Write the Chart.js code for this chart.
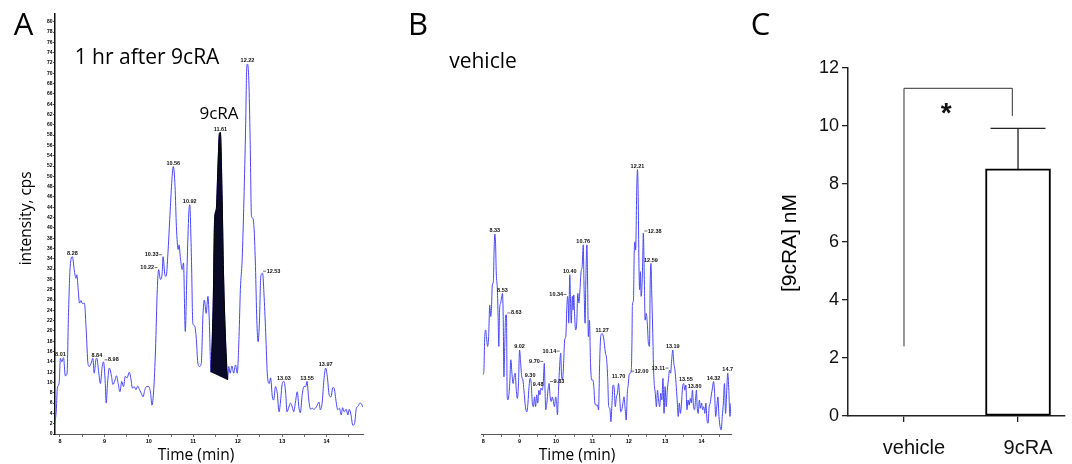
<!DOCTYPE html>
<html lang="en">
<head>
<meta charset="UTF-8">
<title>9cRA chromatograms</title>
<script src="https://cdn.jsdelivr.net/npm/chart.js"></script>
<style>
  body { margin: 0; background: #fff; }
  canvas { position: absolute; top: 0; }
</style>
</head>
<body>
<canvas id="chromA" style="left:0" width="380" height="464"></canvas>
<canvas id="chromB" style="left:380px" width="370" height="464"></canvas>
<canvas id="barC" style="left:740px" width="332" height="464"></canvas>

<script>
// ---- panel A : 1 hr after 9cRA ----
const timeA = [7.87,7.92,7.94,7.98,8.01,8.04,8.08,8.12,8.16,8.19,8.23,8.28,8.32,8.36,8.38,8.41,8.44,8.47,8.51,8.55,
  8.59,8.63,8.66,8.70,8.74,8.77,8.81,8.83,8.87,8.91,8.95,8.98,9.02,9.04,9.07,9.11,9.16,9.19,9.24,9.27,
  9.31,9.35,9.39,9.43,9.47,9.51,9.56,9.60,9.63,9.67,9.71,9.75,9.79,9.83,9.87,9.91,9.95,10.00,10.04,10.07,
  10.11,10.15,10.19,10.22,10.26,10.30,10.32,10.36,10.39,10.43,10.47,10.51,10.55,10.59,10.62,10.66,10.68,10.71,10.75,10.78,
  10.82,10.86,10.90,10.92,10.96,10.99,11.03,11.07,11.10,11.14,11.18,11.22,11.25,11.29,11.33,11.36,11.40,11.45,11.48,11.52,
  11.55,11.59,11.61,11.65,11.68,11.72,11.77,11.80,11.83,11.87,11.91,11.95,11.99,12.03,12.06,12.10,12.14,12.18,12.20,12.22,
  12.25,12.28,12.31,12.34,12.37,12.40,12.43,12.46,12.49,12.52,12.56,12.59,12.63,12.67,12.71,12.74,12.78,12.81,12.85,12.89,
  12.93,12.96,13.00,13.04,13.08,13.11,13.15,13.19,13.23,13.26,13.30,13.34,13.38,13.41,13.45,13.49,13.53,13.56,13.60,13.64,
  13.68,13.71,13.75,13.79,13.83,13.86,13.90,13.94,13.98,14.02,14.06,14.10,14.14,14.17,14.21,14.25,14.29,14.33,14.36,14.40,
  14.44,14.48,14.51,14.55,14.59,14.63,14.67,14.71,14.75,14.79,14.82];
const intensityA = [1.2,5.0,8.9,9.8,14.7,14.0,14.8,11.3,11.8,22.8,32.5,34.4,31.9,30.2,30.9,28.0,25.4,25.9,25.3,25.4,
  20.2,13.7,13.1,13.7,14.7,11.8,14.5,14.7,12.1,9.8,13.1,14.0,9.8,6.0,9.8,12.8,11.2,9.6,10.5,11.3,
  9.8,8.2,10.2,9.2,11.2,10.9,12.0,10.5,8.9,9.2,8.6,9.3,8.6,7.9,7.2,8.6,9.2,9.2,7.9,5.6,
  8.6,16.3,28.0,31.9,30.0,31.2,34.4,30.9,30.6,35.1,41.6,48.0,51.9,48.0,40.3,35.8,36.7,34.2,31.9,33.2,
  19.9,32.5,42.9,44.5,33.5,21.5,21.0,18.3,14.0,13.1,13.7,23.4,26.0,23.4,26.7,22.1,12.0,26.0,41.6,43.8,
  50.6,58.4,58.5,45.4,31.4,19.7,10.5,13.1,11.8,13.2,11.8,13.4,11.8,18.9,28.0,33.8,45.4,60.3,70.4,71.8,
  68.7,57.1,42.2,41.9,39.6,32.5,22.1,17.9,22.1,30.6,31.2,27.4,19.7,11.2,9.8,10.9,7.2,6.6,9.2,7.9,
  4.3,6.0,9.6,10.2,7.9,4.3,5.2,6.0,5.2,4.3,6.2,8.2,5.0,4.1,7.5,9.2,9.2,10.2,6.6,4.8,
  5.0,4.8,5.0,5.6,6.2,4.7,6.0,10.5,12.8,10.9,7.5,7.2,9.0,8.9,6.6,4.7,5.0,3.7,5.1,4.3,
  4.8,3.7,4.8,3.7,1.7,2.0,5.0,5.4,6.0,5.8,5.2];
// integrated 9cRA peak (retention window)
const peakWindowA = [11.40, 11.77];

const peakTextA   = ['8.01','8.28','8.84','8.98','10.22','10.33','10.56','10.92','11.61','12.22','12.53','13.03','13.55','13.97'];
const peakTimeA   = [8.01, 8.28, 8.83, 8.98, 10.22, 10.32, 10.55, 10.92, 11.61, 12.22, 12.55, 13.04, 13.56, 13.98];
const peakHeightA = [14.8, 34.4, 14.7, 14.0, 31.9, 34.4, 51.9, 44.5, 58.5, 71.8, 31.2, 10.2, 10.2, 12.8];
const peakSideA   = ['c','c','c','r','l','l','c','c','c','c','r','c','c','c'];

// ---- panel B : vehicle ----
const timeB = [8.00,8.02,8.04,8.07,8.09,8.12,8.15,8.18,8.21,8.23,8.25,8.28,8.30,8.32,8.34,8.36,8.39,8.41,8.43,8.45,
  8.48,8.51,8.53,8.55,8.57,8.59,8.62,8.64,8.66,8.68,8.71,8.73,8.76,8.79,8.82,8.85,8.88,8.91,8.94,8.97,
  9.00,9.03,9.06,9.09,9.12,9.16,9.20,9.23,9.26,9.29,9.32,9.35,9.38,9.41,9.44,9.47,9.50,9.53,9.56,9.59,
  9.62,9.65,9.68,9.70,9.72,9.75,9.78,9.81,9.84,9.87,9.90,9.93,9.96,9.99,10.02,10.04,10.07,10.10,10.13,10.15,
  10.18,10.21,10.24,10.27,10.30,10.32,10.34,10.35,10.38,10.40,10.42,10.45,10.47,10.49,10.51,10.54,10.57,10.60,10.63,10.66,
  10.69,10.72,10.75,10.77,10.80,10.82,10.85,10.87,10.89,10.92,10.95,10.98,11.01,11.04,11.07,11.10,11.14,11.17,11.20,11.23,
  11.27,11.31,11.36,11.39,11.42,11.45,11.48,11.51,11.54,11.57,11.60,11.63,11.66,11.69,11.72,11.75,11.78,11.81,11.84,11.87,
  11.90,11.93,11.96,11.99,12.01,12.04,12.07,12.09,12.10,12.13,12.15,12.17,12.19,12.22,12.24,12.26,12.28,12.30,12.32,12.34,
  12.37,12.39,12.40,12.43,12.45,12.48,12.51,12.54,12.57,12.59,12.61,12.63,12.66,12.68,12.70,12.73,12.76,12.79,12.82,12.85,
  12.88,12.91,12.94,12.97,13.00,13.03,13.06,13.09,13.12,13.15,13.18,13.21,13.24,13.27,13.30,13.33,13.36,13.39,13.42,13.45,
  13.48,13.51,13.54,13.57,13.60,13.63,13.66,13.69,13.72,13.75,13.78,13.81,13.84,13.86,13.88,13.91,13.94,13.97,14.00,14.03,
  14.06,14.09,14.12,14.15,14.18,14.21,14.24,14.27,14.30,14.33,14.36,14.39,14.42,14.45,14.48,14.51,14.54,14.57,14.60,14.63,
  14.66,14.69,14.72,14.75,14.78,14.81];
const intensityB = [11.5,12.4,18.3,20.2,18.9,17.0,18.9,25.0,22.8,24.7,28.9,29.6,35.7,38.8,37.0,31.2,28.0,22.8,17.0,24.1,
  25.4,26.7,27.3,22.8,11.1,16.3,23.1,23.1,7.2,6.6,7.9,9.8,14.4,11.8,9.8,11.1,11.8,8.5,6.9,9.8,
  16.3,13.7,11.1,10.5,8.5,5.3,4.3,6.0,9.2,10.8,9.8,6.0,5.3,7.2,5.3,7.6,6.0,8.5,7.6,8.9,
  8.5,9.8,13.7,8.5,4.7,6.0,8.5,9.8,7.2,6.3,7.2,6.3,5.3,7.2,6.0,3.7,8.5,13.1,15.7,11.8,
  10.5,13.7,18.3,18.9,24.7,26.7,24.7,21.5,30.9,26.0,21.5,26.7,24.1,27.0,23.4,20.2,21.5,27.3,25.4,28.0,
  31.5,32.5,36.7,29.3,21.5,29.3,36.7,29.3,18.9,22.1,13.7,10.5,10.5,9.2,6.0,5.6,5.6,4.7,13.7,18.9,
  19.5,18.6,15.7,14.7,11.1,5.3,5.0,2.4,6.0,9.5,8.9,5.3,7.2,7.9,9.8,7.2,4.3,4.7,6.0,7.2,
  5.0,2.7,7.9,9.8,11.5,11.8,12.4,18.9,25.0,26.0,35.1,37.3,35.7,47.4,51.3,46.1,33.1,28.0,31.5,26.7,
  29.9,35.7,39.0,29.3,22.1,23.4,21.5,17.6,17.0,29.3,33.1,28.0,19.5,13.1,9.8,7.9,5.3,8.5,6.6,5.3,
  7.9,6.6,10.8,4.0,9.2,5.3,8.5,10.5,12.4,11.8,14.4,16.3,13.7,12.4,9.8,6.6,3.4,6.0,4.0,6.0,
  9.2,9.8,8.5,9.5,4.7,6.6,5.6,6.9,6.0,8.5,5.3,4.7,7.2,8.5,5.3,4.0,6.6,5.0,6.0,4.7,
  5.3,4.0,6.0,2.7,2.1,5.3,6.0,7.6,8.9,10.2,7.9,3.4,5.3,7.2,3.4,1.4,0.8,3.4,6.0,9.8,
  4.0,7.9,11.8,8.5,3.4,6.0];

const peakTextB   = ['8.33','8.53','8.63','9.02','9.30','9.48','9.70','9.83','10.14','10.34','10.40','10.76',
  '11.27','11.70','12.00','12.21','12.38','12.59','13.11','13.19','13.55','13.80','14.32','14.7'];
const peakTimeB   = [8.32, 8.53, 8.64, 9.00, 9.29, 9.51, 9.68, 9.81, 10.13, 10.32, 10.38, 10.75,
  11.27, 11.72, 12.04, 12.24, 12.40, 12.61, 13.12, 13.21, 13.57, 13.81, 14.33, 14.72];
const peakHeightB = [38.8, 27.3, 23.1, 16.3, 10.8, 8.9, 13.7, 9.8, 15.7, 26.7, 30.9, 36.7,
  19.5, 10.5, 11.8, 51.3, 39.0, 33.1, 12.4, 16.3, 10.0, 8.5, 10.2, 11.8];
const peakSideB   = ['c','c','r','c','c','c','l','r','l','l','c','c','c','c','r','c','r','c','l','c','c','c','c','c'];

// shared chromatogram axes
const timeTicks = [8, 8.5, 9, 9.5, 10, 10.5, 11, 11.5, 12, 12.5, 13, 13.5, 14, 14.5];
const intensityTicks = [0,2,4,6,8,10,12,14,16,18,20,22,24,26,28,30,32,34,36,38,40,
  42,44,46,48,50,52,54,56,58,60,62,64,66,68,70,72,74,76,78,80];

// ---- panel C : [9cRA] nM ----
const groups = ['vehicle', '9cRA'];
const meanNM = [0, 8.52];
const semNM = [0, 1.4];
const concTicks = [0, 2, 4, 6, 8, 10, 12];
const bracketX = [0, 0.95];        // bracket legs, in group units
const bracketLegs = [2.4, 10.35];  // lower ends of the legs
const bracketTop = 11.3;
const starAt = [0.37, 10.65];

Chart.defaults.font.family = '"Liberation Sans", Arial, sans-serif';
Chart.defaults.color = '#000';

const BLUE = 'rgb(70,70,250)';

function pts(xs, ys) { return xs.map((x, i) => ({ x: x, y: ys[i] })); }

function textPlugin(items) {
  return {
    id: 'texts',
    afterDraw(chart) {
      const ctx = chart.ctx;
      items.forEach(it => {
        ctx.save();
        ctx.font = it.font;
        ctx.fillStyle = '#000';
        ctx.textAlign = 'center';
        ctx.textBaseline = 'alphabetic';
        ctx.translate(it.x, it.y);
        if (it.rot) ctx.rotate(-Math.PI / 2);
        ctx.fillText(it.text, 0, 0);
        ctx.restore();
      });
    }
  };
}

function peakLabels(texts, times, heights, sides) {
  return {
    id: 'peakLabels',
    afterDatasetsDraw(chart) {
      const { ctx, scales: { x, y } } = chart;
      ctx.save();
      ctx.font = 'bold 5.5px "Liberation Sans"';
      ctx.fillStyle = '#111';
      ctx.strokeStyle = '#111';
      ctx.lineWidth = 0.6;
      texts.forEach((t, i) => {
        const px = x.getPixelForValue(times[i]);
        const py = y.getPixelForValue(heights[i]);
        if (sides[i] === 'c') {
          ctx.textAlign = 'center';
          ctx.textBaseline = 'bottom';
          ctx.fillText(t, px, py - 0.5);
        } else {
          const d = sides[i] === 'r' ? 1 : -1;
          ctx.beginPath();
          ctx.moveTo(px + d, py - 2);
          ctx.lineTo(px + 4 * d, py - 2);
          ctx.stroke();
          ctx.textAlign = d > 0 ? 'left' : 'right';
          ctx.textBaseline = 'middle';
          ctx.fillText(t, px + 4.5 * d, py - 2);
        }
      });
      ctx.restore();
    }
  };
}

function chromScales(xmin, xmax, showY) {
  return {
    x: {
      type: 'linear', min: xmin, max: xmax,
      afterFit: s => { s.height = 30; },
      afterBuildTicks: s => { s.ticks = timeTicks.map(v => ({ value: v })); },
      ticks: {
        callback: v => Number.isInteger(v) ? String(v) : '',
        font: { size: 5.5, weight: 'bold' }, color: '#000',
        padding: 1, maxRotation: 0, autoSkip: false
      },
      grid: { drawOnChartArea: false, tickLength: 3, color: '#444', lineWidth: 0.8 },
      border: { color: '#555', width: 1 }
    },
    y: {
      display: showY, min: 0, max: 81.5,
      afterFit: s => { s.width = 55; },
      afterBuildTicks: s => { s.ticks = intensityTicks.map(v => ({ value: v })); },
      ticks: { font: { size: 5, weight: 'bold' }, color: '#000', padding: 0.5, autoSkip: false },
      grid: { drawOnChartArea: false, tickLength: 2, color: '#222', lineWidth: 0.8 },
      border: { color: '#111', width: 1.5 }
    }
  };
}

const traceA = pts(timeA, intensityA);
const peakA = traceA.filter(p => p.x >= peakWindowA[0] && p.x <= peakWindowA[1]);

new Chart(document.getElementById('chromA'), {
  type: 'line',
  data: {
    datasets: [
      { data: peakA, fill: 'shape', backgroundColor: '#0a0a26', borderColor: '#000',
        borderWidth: 1, pointRadius: 0, cubicInterpolationMode: 'monotone' },
      { data: traceA, fill: false, borderColor: BLUE, borderWidth: 1,
        pointRadius: 0, cubicInterpolationMode: 'monotone' }
    ]
  },
  options: {
    responsive: false, animation: false, devicePixelRatio: 1, parsing: false,
    layout: { padding: { top: 14, right: 17, left: 0, bottom: 0 } },
    plugins: { legend: { display: false }, tooltip: { enabled: false } },
    scales: chromScales(7.888, 14.82, true)
  },
  plugins: [
    peakLabels(peakTextA, peakTimeA, peakHeightA, peakSideA),
    textPlugin([
      { text: 'A', x: 23.5, y: 35, font: '31px "Open Sans"' },
      { text: '1 hr after 9cRA', x: 147, y: 64.3, font: '21px "Open Sans"' },
      { text: '9cRA', x: 219, y: 118.7, font: '17px "Open Sans"' },
      { text: 'intensity, cps', x: 31.4, y: 218.3, font: '15.5px "Open Sans"', rot: true },
      { text: 'Time (min)', x: 196, y: 459.5, font: '15.5px "Open Sans"' }
    ])
  ]
});

new Chart(document.getElementById('chromB'), {
  type: 'line',
  data: {
    datasets: [
      { data: pts(timeB, intensityB), fill: false, borderColor: BLUE, borderWidth: 1,
        pointRadius: 0, cubicInterpolationMode: 'monotone' }
    ]
  },
  options: {
    responsive: false, animation: false, devicePixelRatio: 1, parsing: false,
    layout: { padding: { top: 14, right: 19, left: 46, bottom: 0 } },
    plugins: { legend: { display: false }, tooltip: { enabled: false } },
    scales: chromScales(7.94, 14.81, false)
  },
  plugins: [
    peakLabels(peakTextB, peakTimeB, peakHeightB, peakSideB),
    textPlugin([
      { text: 'B', x: 38, y: 35, font: '31px "Open Sans"' },
      { text: 'vehicle', x: 103, y: 67.7, font: '21px "Open Sans"' },
      { text: 'Time (min)', x: 197, y: 459.5, font: '15.5px "Open Sans"' }
    ])
  ]
});

// error bars, significance bracket and star for panel C
const sigPlugin = {
  id: 'sig',
  afterDatasetsDraw(chart) {
    const { ctx, scales: { x, y } } = chart;
    ctx.save();
    ctx.strokeStyle = '#222';
    ctx.lineWidth = 1.3;
    meanNM.forEach((m, i) => {
      if (!semNM[i]) return;
      const px = x.getPixelForValue(i);
      const top = y.getPixelForValue(m + semNM[i]);
      ctx.beginPath();
      ctx.moveTo(px, y.getPixelForValue(m));
      ctx.lineTo(px, top);
      ctx.moveTo(px - 27.5, top);
      ctx.lineTo(px + 27.5, top);
      ctx.stroke();
    });
    ctx.strokeStyle = '#333';
    ctx.lineWidth = 1;
    ctx.beginPath();
    ctx.moveTo(x.getPixelForValue(bracketX[0]), y.getPixelForValue(bracketLegs[0]));
    ctx.lineTo(x.getPixelForValue(bracketX[0]), y.getPixelForValue(bracketTop));
    ctx.lineTo(x.getPixelForValue(bracketX[1]), y.getPixelForValue(bracketTop));
    ctx.lineTo(x.getPixelForValue(bracketX[1]), y.getPixelForValue(bracketLegs[1]));
    ctx.stroke();
    ctx.font = 'bold 28px "Liberation Sans"';
    ctx.fillStyle = '#111';
    ctx.textAlign = 'center';
    ctx.textBaseline = 'alphabetic';
    ctx.fillText('*', x.getPixelForValue(starAt[0]), y.getPixelForValue(starAt[1]) + 14.5);
    ctx.restore();
  }
};

new Chart(document.getElementById('barC'), {
  type: 'bar',
  data: {
    datasets: [{
      data: pts(groups.map((g, i) => i), meanNM),
      backgroundColor: '#fff', borderColor: '#000', borderWidth: 2,
      borderSkipped: false, barThickness: 65
    }]
  },
  options: {
    responsive: false, animation: false, devicePixelRatio: 1,
    layout: { padding: { top: 68, right: 7, left: 0, bottom: 0 } },
    plugins: { legend: { display: false }, tooltip: { enabled: false } },
    scales: {
      x: {
        type: 'linear', min: -0.491, max: 1.412, offset: false,
        afterFit: s => { s.height = 48; },
        afterBuildTicks: s => { s.ticks = groups.map((g, i) => ({ value: i })); },
        ticks: {
          callback: v => groups[v], font: { size: 20 }, color: '#111',
          labelOffset: 10, padding: 14, maxRotation: 0, autoSkip: false
        },
        grid: { offset: false, drawOnChartArea: false, tickLength: 6, color: '#222', lineWidth: 1.3 },
        border: { color: '#222', width: 1.5 }
      },
      y: {
        min: 0, max: 12,
        afterFit: s => { s.width = 108; },
        afterBuildTicks: s => { s.ticks = concTicks.map(v => ({ value: v })); },
        ticks: { font: { size: 18 }, color: '#111', padding: 3 },
        grid: { drawOnChartArea: false, tickLength: 6, color: '#222', lineWidth: 1.3 },
        border: { color: '#222', width: 1.5 }
      }
    }
  },
  plugins: [
    sigPlugin,
    textPlugin([
      { text: 'C', x: 20.5, y: 35, font: '31px "Open Sans"' },
      { text: '[9cRA] nM', x: 55.6, y: 243, font: '21px "Liberation Sans"', rot: true }
    ])
  ]
});
</script>
</body>
</html>
